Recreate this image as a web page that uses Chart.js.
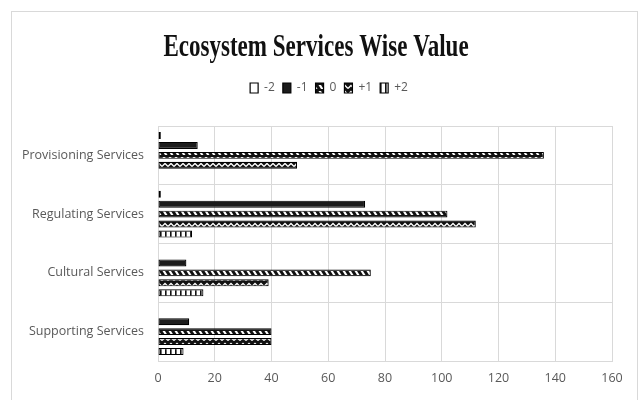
<!DOCTYPE html>
<html>
<head>
<meta charset="utf-8">
<script src="https://cdn.jsdelivr.net/npm/chart.js@4"></script>
<style>
  html, body { margin:0; padding:0; background:#fff; }
  #wrap { position:relative; width:639px; height:400px; overflow:hidden; }
  #frame { position:absolute; left:11px; top:11px; width:625px; height:420px; border:1px solid #d9d9d9; }
  #chart { position:absolute; left:0; top:0; }
</style>
</head>
<body>
<div id="wrap">
  <div id="frame"></div>
  <canvas id="chart" width="639" height="400"></canvas>
</div>
<script>
// Data
const categories = ['Provisioning Services', 'Regulating Services', 'Cultural Services', 'Supporting Services'];
const seriesNames = ['-2', '-1', '0', '+1', '+2'];
const valsMinus2 = [1, 1, 0, 0];
const valsMinus1 = [14, 73, 10, 11];
const valsZero   = [136, 102, 75, 40];
const valsPlus1  = [49, 112, 39, 40];
const valsPlus2  = [0, 12, 16, 9];
const xTicks = [0, 20, 40, 60, 80, 100, 120, 140, 160];
const chartTitle = 'Ecosystem Services Wise Value';

// black & white fill patterns, one per rating
function makePattern(w, h, paint){
  const c = document.createElement('canvas');
  c.width = w; c.height = h;
  const g = c.getContext('2d');
  paint(g, w, h);
  return g.createPattern(c, 'repeat');
}
const fillMinus2 = '#ffffff';
const fillMinus1 = '#1c1c1c';
const fillZero = makePattern(6, 6, (g,w,h)=>{
  g.fillStyle = '#111'; g.fillRect(0,0,w,h);
  g.fillStyle = '#fff';
  g.beginPath(); g.moveTo(0.5,1); g.lineTo(3,1); g.lineTo(5.5,5); g.lineTo(3,5); g.closePath(); g.fill();
});
const fillPlus1 = makePattern(6, 6, (g,w,h)=>{
  g.fillStyle = '#111'; g.fillRect(0,0,w,h);
  g.strokeStyle = '#fff'; g.lineWidth = 1.3;
  g.beginPath(); g.moveTo(0,4.5); g.lineTo(3,1.5); g.lineTo(6,4.5); g.stroke();
});
const fillPlus2 = makePattern(5, 6, (g,w,h)=>{
  g.fillStyle = '#fff'; g.fillRect(0,0,w,h);
  g.fillStyle = '#111'; g.fillRect(0,0,1.6,h);
});

const fills = [fillMinus2, fillMinus1, fillZero, fillPlus1, fillPlus2];
const values = [valsMinus2, valsMinus1, valsZero, valsPlus1, valsPlus2];

// condensed serif title above the legend
const titlePlugin = {
  id: 'squeezedTitle',
  afterDraw(chart){
    const ctx = chart.ctx;
    ctx.save();
    ctx.font = 'bold 32px "Liberation Serif", "DejaVu Serif", serif';
    ctx.fillStyle = '#111';
    ctx.textAlign = 'center';
    ctx.textBaseline = 'middle';
    ctx.translate(316, 48);
    ctx.scale(0.72, 1);
    ctx.fillText(chartTitle, 0, 0);
    ctx.restore();
  }
};

// empty band between the legend and the plot, legend nudged right
const gapPlugin = {
  id: 'legendGap',
  start(chart){
    Chart.layouts.addBox(chart, {
      position: 'top', weight: 500, fullSize: true, options: {},
      left: 0, top: 0, right: 0, bottom: 0, width: 0, height: 0,
      isHorizontal(){ return true; },
      update(maxW){ this.width = maxW; this.height = 22; },
      draw(){}
    });
  },
  afterLayout(chart){
    chart.legend.left += 23;
    chart.legend.right += 23;
  }
};

const gridColor = '#d9d9d9';
const tickFont = { family: '"Open Sans", sans-serif', size: 12.5 };

new Chart(document.getElementById('chart'), {
  type: 'bar',
  data: {
    labels: categories,
    datasets: seriesNames.map((name, i) => ({
      label: name,
      data: values[i],
      backgroundColor: fills[i],
      borderColor: '#000',
      borderWidth: 1.2,
      borderSkipped: false,
      categoryPercentage: 0.85,
      barPercentage: 0.7
    }))
  },
  options: {
    indexAxis: 'y',
    responsive: false,
    animation: false,
    layout: { padding: { top: 74, right: 27, left: 0, bottom: 0 } },
    plugins: {
      title: { display: false },
      tooltip: { enabled: false },
      legend: {
        position: 'top',
        labels: {
          boxWidth: 8, boxHeight: 10,
          color: '#595959',
          font: { family: '"Open Sans", sans-serif', size: 12 },
          padding: 8
        }
      }
    },
    scales: {
      x: {
        min: 0, max: 160,
        afterBuildTicks: (s) => { s.ticks = xTicks.map(v => ({ value: v })); },
        grid: { color: gridColor, drawTicks: false },
        border: { color: gridColor },
        ticks: { color: '#595959', font: tickFont, padding: 10 },
        afterFit: (s) => { s.height = 39; }
      },
      y: {
        grid: { color: gridColor, drawTicks: false },
        border: { color: gridColor },
        ticks: { color: '#595959', font: tickFont, padding: 14 },
        afterFit: (s) => { s.width = 158; }
      }
    }
  },
  plugins: [titlePlugin, gapPlugin]
});
</script>
</body>
</html>
